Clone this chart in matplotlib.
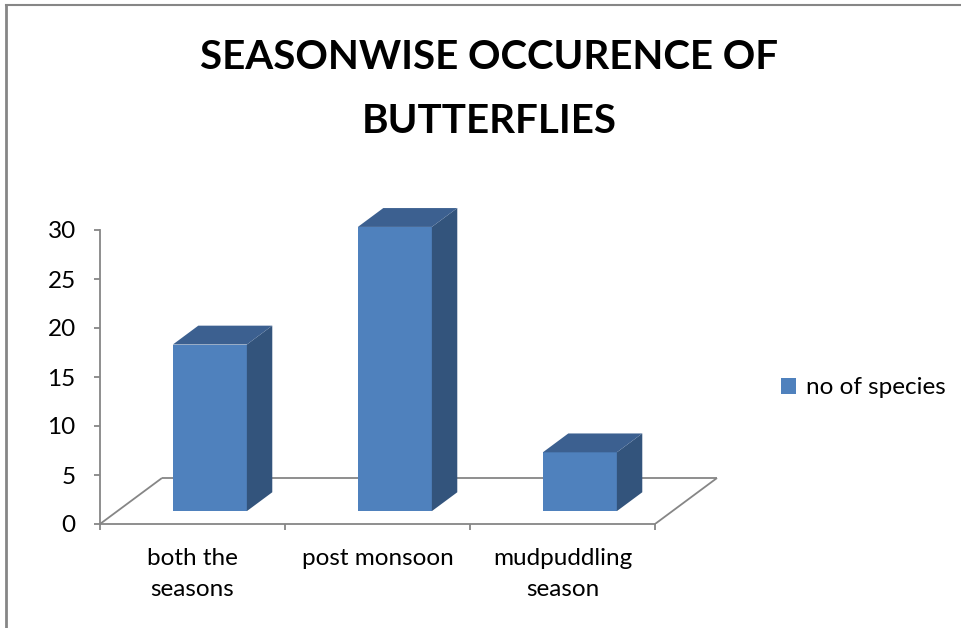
import matplotlib
matplotlib.use("Agg")
import matplotlib.pyplot as plt
from matplotlib.patches import Polygon, Patch

categories = ["both the\nseasons", "post monsoon", "mudpuddling\nseason"]
values = [17, 29, 6]
series_name = "no of species"
title_lines = ["SEASONWISE OCCURENCE OF", "BUTTERFLIES"]
yticks = [0, 5, 10, 15, 20, 25, 30]

FRONT = "#4F81BD"
SIDE = "#33547C"
TOP = "#3C6090"
GRAY = "#868686"
FONT = "Lato"
FS = 17.5

W, H = 962, 628
fig = plt.figure(figsize=(W / 100, H / 100), dpi=100)

# axes placed in pixel terms
L, R, B, T = 100, 729, 524, 200
ax = fig.add_axes([L / W, 1 - B / H, (R - L) / W, (B - T) / H])
px_per_cat = 185.0
px_per_unit = 9.8
x0 = -0.5
ax.set_xlim(x0, x0 + (R - L) / px_per_cat)
ax.set_ylim(0, (B - T) / px_per_unit)

# oblique depth offsets (data units)
DX = 62 / px_per_cat
DY = 46 / px_per_unit
z0, z1 = 0.28, 0.69
bw = 0.4
n = len(categories)

# floor outline
fl = dict(color=GRAY, lw=1.3, zorder=1, solid_capstyle="butt")
ax.plot([x0, x0 + DX], [0, DY], **fl)
ax.plot([x0 + DX, x0 + n + DX], [DY, DY], **fl)
ax.plot([x0 + n, x0 + n + DX], [0, DY], **fl)

# bars: front face via ax.bar, side/top polygons derived from data
xs = list(range(n))
ax.bar([x + z0 * DX for x in xs], values, width=bw, bottom=z0 * DY,
       color=FRONT, zorder=3, linewidth=0)
for x, v in zip(xs, values):
    xl = x - bw / 2
    xr = x + bw / 2
    side = [(xr + z0 * DX, z0 * DY), (xr + z1 * DX, z1 * DY),
            (xr + z1 * DX, v + z1 * DY), (xr + z0 * DX, v + z0 * DY)]
    top = [(xl + z0 * DX, v + z0 * DY), (xr + z0 * DX, v + z0 * DY),
           (xr + z1 * DX, v + z1 * DY), (xl + z1 * DX, v + z1 * DY)]
    ax.add_patch(Polygon(side, closed=True, facecolor=SIDE, edgecolor="none", zorder=3))
    ax.add_patch(Polygon(top, closed=True, facecolor=TOP, edgecolor="none", zorder=3))

# spines / ticks
for s in ["top", "right"]:
    ax.spines[s].set_visible(False)
for s in ["left", "bottom"]:
    ax.spines[s].set_color(GRAY)
    ax.spines[s].set_linewidth(1.3)
ax.spines["left"].set_bounds(0, 30)
ax.spines["bottom"].set_bounds(x0, x0 + n)
ax.set_yticks(yticks)
ax.set_yticklabels([str(t) for t in yticks], fontsize=FS, family=FONT)
ax.set_xticks([x0 + i for i in range(n + 1)])
ax.set_xticklabels([])
ax.tick_params(axis="both", color=GRAY, width=1.3, length=4.5, direction="out")
ax.tick_params(axis="y", pad=13)
ax.patch.set_visible(False)

for x, c in zip(xs, categories):
    ax.annotate(c, xy=(x, 0), xytext=(0, -17), textcoords="offset points",
                ha="center", va="top", fontsize=FS, family=FONT,
                linespacing=1.6)

fig.text(489 / W, 1 - 69 / H, title_lines[0], ha="center", va="baseline",
         fontsize=29, fontweight="bold", family=FONT)
fig.text(489 / W, 1 - 133 / H, title_lines[1], ha="center", va="baseline",
         fontsize=29, fontweight="bold", family=FONT)

fig.legend(handles=[Patch(facecolor=FRONT, edgecolor="none")], labels=[series_name],
           loc="center left", bbox_to_anchor=(774 / W, 1 - 388 / H),
           frameon=False, handlelength=0.6, handleheight=0.6, handletextpad=0.4,
           borderaxespad=0, borderpad=0.3,
           prop={"family": FONT, "size": FS})

# outer border (top and left visible)
fig.add_artist(plt.Line2D([6 / W, 6 / W], [0, 1 - 5 / H], color=GRAY, lw=2,
                          transform=fig.transFigure))
fig.add_artist(plt.Line2D([6 / W, 1], [1 - 5 / H, 1 - 5 / H], color=GRAY, lw=1.5,
                          transform=fig.transFigure))

fig.savefig("out.png", dpi=100)
